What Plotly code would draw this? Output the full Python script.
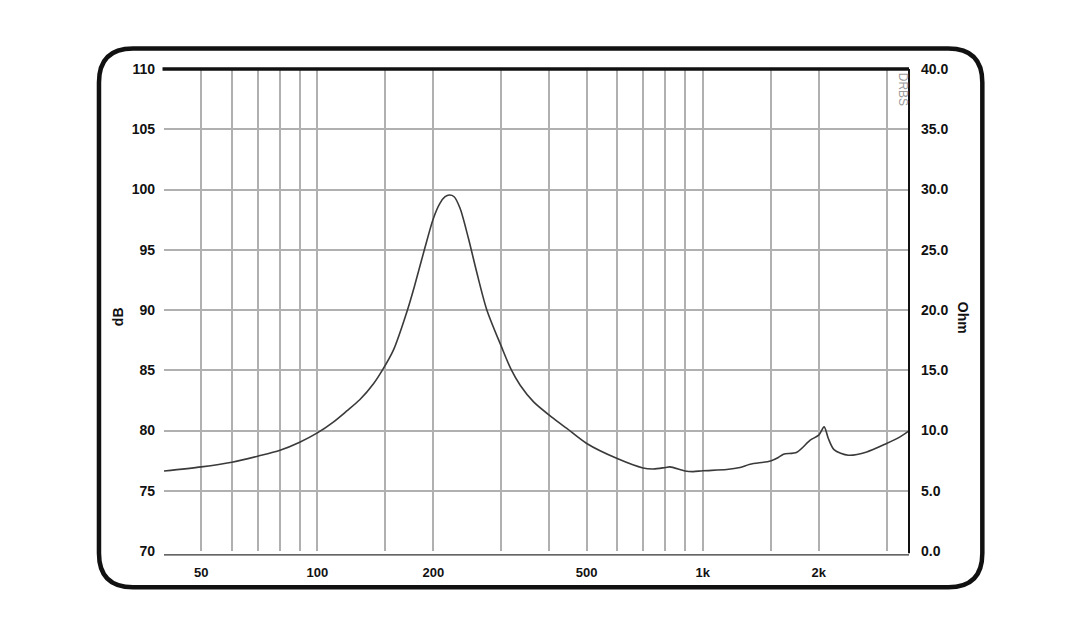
import plotly.graph_objs as go

# impedance curve (Hz, Ohm)
freq = [40, 50, 60, 70, 80, 90, 100, 110, 119, 129, 140, 148, 157.5, 171.5,
        179, 190, 200, 208, 214.5, 220, 226.4, 234.6, 246.6, 259, 275, 300,
        318, 336, 364, 410, 444, 500, 600, 700, 745, 800, 822, 900, 945, 1000,
        1154, 1250, 1327, 1500, 1571, 1620, 1755, 1901, 2000, 2066, 2118, 2191,
        2388, 2665, 3000, 3251, 3430]
ohm = [6.64, 6.98, 7.37, 7.87, 8.36, 9.03, 9.80, 10.7, 11.6, 12.57, 13.9, 15.09,
       16.67, 20.05, 22.07, 25.12, 27.6, 28.85, 29.4, 29.54, 29.4, 28.44,
       25.95, 23.17, 20.05, 17.0, 15.09, 13.76, 12.38, 11.0, 10.17,
       8.92, 7.67, 6.89, 6.81, 6.93, 6.98, 6.64, 6.59, 6.66, 6.76, 6.93, 7.2,
       7.47, 7.76, 8.03, 8.2, 9.2, 9.61, 10.3, 9.34, 8.42, 7.95, 8.22, 8.92,
       9.47, 9.97]

x_grid = [40, 50, 60, 70, 80, 90, 100, 150, 200, 300, 400, 500, 600, 700, 800, 900,
          1000, 1500, 2000, 3000]
x_labels = {50: '50', 100: '100', 200: '200', 500: '500', 1000: '1k', 2000: '2k'}
db_ticks = [70, 75, 80, 85, 90, 95, 100, 105, 110]
ohm_ticks = [0, 5, 10, 15, 20, 25, 30, 35, 40]

# plot area in page pixels (page body has an 8px margin)
L, R, T, B = 164, 908.7, 69, 550.7
W, H = 1072, 627
OFF = 8

def px(x, y):
    return (x - L) / (R - L), (B - y) / (B - T)

def rounded_box(x0, y0, x1, y1, r):
    pts = [
        ('M', [(x0 + r, y0)]), ('L', [(x1 - r, y0)]), ('Q', [(x1, y0), (x1, y0 + r)]),
        ('L', [(x1, y1 - r)]), ('Q', [(x1, y1), (x1 - r, y1)]),
        ('L', [(x0 + r, y1)]), ('Q', [(x0, y1), (x0, y1 - r)]),
        ('L', [(x0, y0 + r)]), ('Q', [(x0, y0), (x0 + r, y0)]),
    ]
    s = ''
    for cmd, ps in pts:
        s += cmd + ' ' + ' '.join('%.5f,%.5f' % px(a, b) for a, b in ps) + ' '
    return s + 'Z'

font = 'Liberation Sans, Arial, sans-serif'

trace_ohm = go.Scatter(x=freq, y=ohm, mode='lines', yaxis='y2',
                       line=dict(color='#3a3a3a', width=1.6, shape='spline', smoothing=0.8),
                       showlegend=False, hoverinfo='x+y')
trace_db = go.Scatter(x=[None], y=[None], yaxis='y', showlegend=False)

layout = go.Layout(
    width=W, height=H,
    paper_bgcolor='white', plot_bgcolor='white',
    margin=dict(l=L - OFF, r=W + OFF - R, t=T - OFF, b=H + OFF - B, pad=0),
    font=dict(family=font, color='#111'),
    xaxis=dict(type='log', range=[1.60206, 3.53529],
               tickvals=x_grid, ticktext=[x_labels.get(v, '') for v in x_grid],
               showgrid=True, gridcolor='#b0b0b0', gridwidth=1.5,
               showline=False, zeroline=False, ticks='',
               ticklabelstandoff=12,
               tickfont=dict(size=13, weight='bold', color='#111')),
    yaxis=dict(range=[70, 110], tickvals=db_ticks,
               showgrid=True, gridcolor='#b0b0b0', gridwidth=1.5,
               showline=False, zeroline=False, ticks='',
               ticklabelstandoff=8,
               tickfont=dict(size=14, weight='bold', color='#111')),
    yaxis2=dict(range=[0, 40], tickvals=ohm_ticks,
                ticktext=['%.1f' % v for v in ohm_ticks],
                overlaying='y', side='right', showgrid=False,
                showline=False, zeroline=False, ticks='',
                ticklabelstandoff=11,
                tickfont=dict(size=14, weight='bold', color='#111')),
    shapes=[
        dict(type='line', xref='paper', yref='paper', x0=-0.002, x1=1, y0=1, y1=1,
             line=dict(color='#111', width=3.5)),
        dict(type='line', xref='paper', yref='paper', x0=1, x1=1,
             y0=px(0, 553)[1], y1=1, line=dict(color='#111', width=2)),
        dict(type='line', xref='paper', yref='paper', x0=0, x1=1,
             y0=px(0, 554.5)[1], y1=px(0, 554.5)[1], line=dict(color='#333', width=1.2)),
        dict(type='path', xref='paper', yref='paper',
             path=rounded_box(99, 48.5, 982, 587, 34),
             line=dict(color='#111', width=4.5)),
    ],
    annotations=[
        dict(text='<b>dB</b>', xref='paper', yref='paper', x=px(118, 0)[0], y=px(0, 316)[1],
             xanchor='center', yanchor='middle',
             showarrow=False, textangle=-90, font=dict(size=14, color='#111')),
        dict(text='<b>Ohm</b>', xref='paper', yref='paper', x=px(963, 0)[0], y=px(0, 318)[1],
             xanchor='center', yanchor='middle',
             showarrow=False, textangle=90, font=dict(size=14, color='#111')),
        dict(text='DRBS', xref='paper', yref='paper', x=px(903, 0)[0], y=px(0, 89)[1],
             xanchor='center', yanchor='middle',
             showarrow=False, textangle=90, font=dict(size=12, color='#9a9a9a')),
    ],
)

fig = go.Figure(data=[trace_db, trace_ohm], layout=layout)
fig.write_html('out.html')
